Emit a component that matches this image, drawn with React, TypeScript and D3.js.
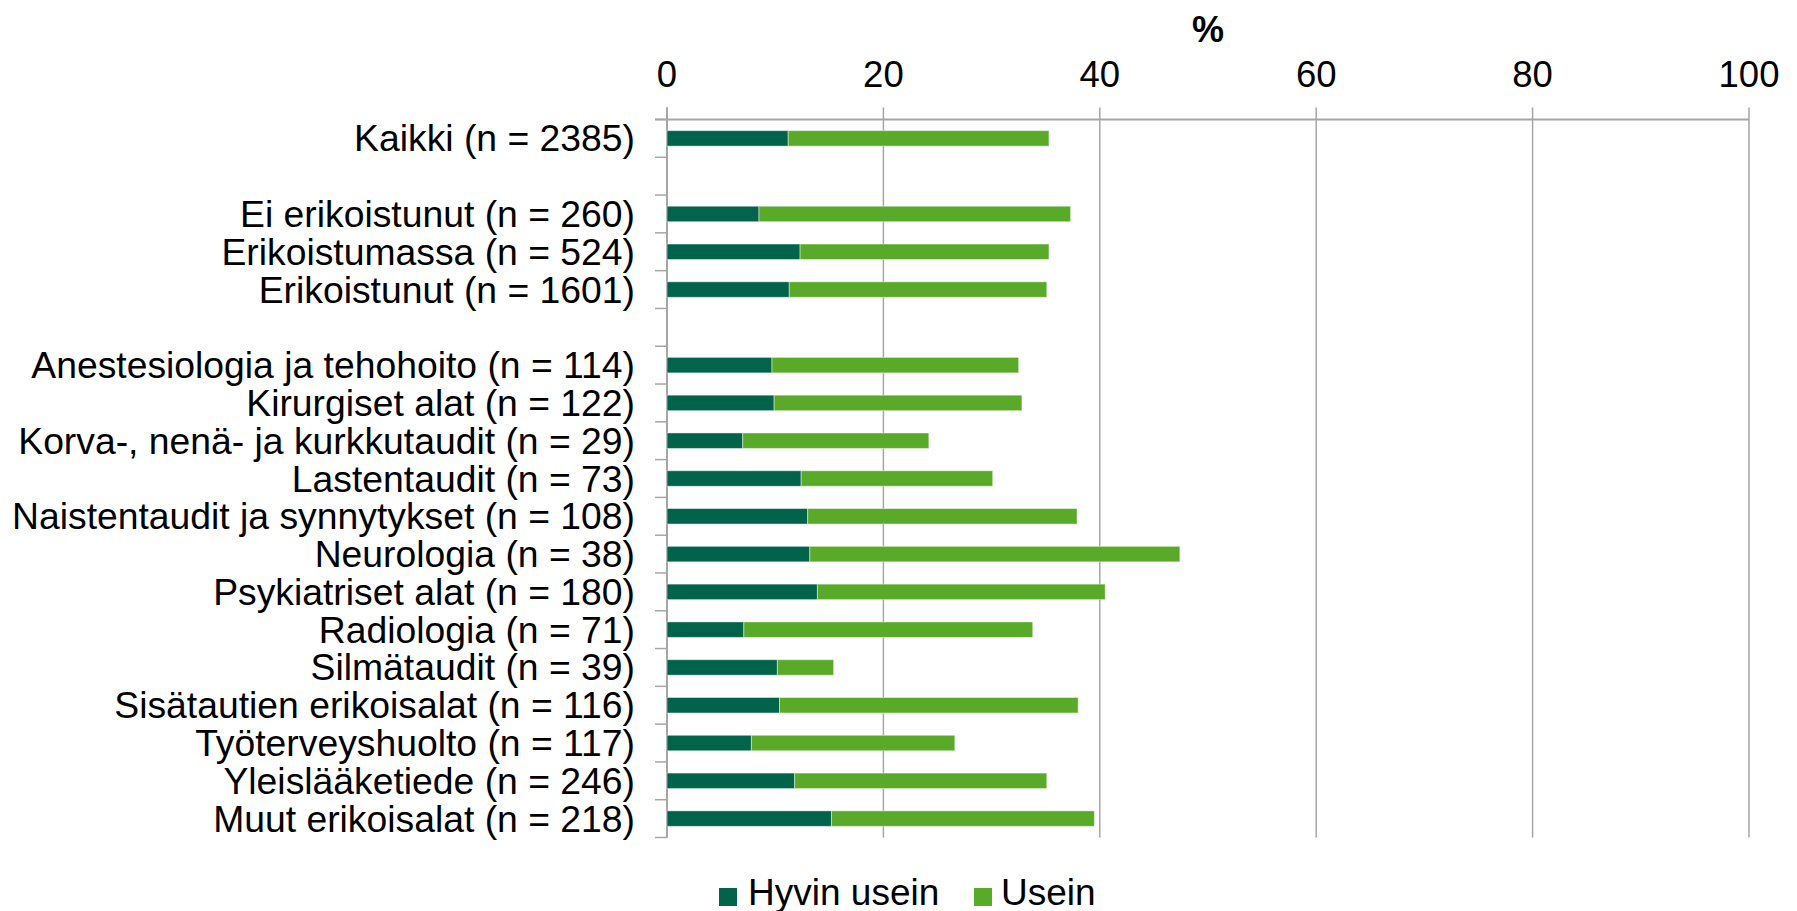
import React from "react";
import * as d3 from "d3";

const categories: string[] = [
  "Kaikki (n = 2385)",
  "",
  "Ei erikoistunut (n = 260)",
  "Erikoistumassa (n = 524)",
  "Erikoistunut (n = 1601)",
  "",
  "Anestesiologia ja tehohoito (n = 114)",
  "Kirurgiset alat (n = 122)",
  "Korva-, nenä- ja kurkkutaudit (n = 29)",
  "Lastentaudit (n = 73)",
  "Naistentaudit ja synnytykset (n = 108)",
  "Neurologia (n = 38)",
  "Psykiatriset alat (n = 180)",
  "Radiologia (n = 71)",
  "Silmätaudit (n = 39)",
  "Sisätautien erikoisalat (n = 116)",
  "Työterveyshuolto (n = 117)",
  "Yleislääketiede (n = 246)",
  "Muut erikoisalat (n = 218)",
];

const hyvinUsein: (number | null)[] = [
  11.2, null, 8.5, 12.3, 11.3, null, 9.7, 9.9, 7.0, 12.4, 13.0, 13.2, 13.9, 7.1, 10.2, 10.4, 7.8, 11.8, 15.2,
];
const usein: (number | null)[] = [
  24.1, null, 28.8, 23.0, 23.8, null, 22.8, 22.9, 17.2, 17.7, 24.9, 34.2, 26.6, 26.7, 5.2, 27.6, 18.8, 23.3, 24.3,
];

const seriesNames = ["Hyvin usein", "Usein"];
const xTicks = [0, 20, 40, 60, 80, 100];
const axisTitle = "%";

const W = 1797;
const H = 911;
const FONT = "'Liberation Sans', Arial, sans-serif";
const DARK = "#00634a";
const LIGHT = "#5aaa29";
const GRID = "#a6a6a6";

export default function App() {
  const left = 667;
  const right = 1749;
  const top = 119.5;
  const bottom = 837.5;

  const x = d3.scaleLinear().domain([0, 100]).range([left, right]);
  const idx = categories.map((_, i) => String(i));
  const y = d3
    .scaleBand<string>()
    .domain(idx)
    .range([top, bottom])
    .paddingInner(0.59)
    .paddingOuter(0.295);
  const step = y.step();
  const bw = y.bandwidth();

  const boundaries = d3.range(categories.length + 1).map((i) => top + i * step);

  return (
    <svg
      width={W}
      height={H}
      style={{ position: "fixed", left: 0, top: 0, background: "#fff" }}
      fontFamily={FONT}
    >
      <rect x={0} y={0} width={W} height={H} fill="#fff" />
      {xTicks.map((t) => (
        <line
          key={"g" + t}
          x1={x(t)}
          x2={x(t)}
          y1={top - 12}
          y2={bottom}
          stroke={GRID}
          strokeWidth={1.5}
        />
      ))}
      <line x1={left - 12} x2={right} y1={top} y2={top} stroke={GRID} strokeWidth={2} />
      {boundaries.map((b, i) => (
        <line key={"lt" + i} x1={left - 12} x2={left} y1={b} y2={b} stroke={GRID} strokeWidth={1.5} />
      ))}
      <line x1={left} x2={left} y1={top - 12} y2={bottom} stroke={GRID} strokeWidth={2} />
      {xTicks.map((t) => (
        <text key={"t" + t} x={x(t)} y={87} textAnchor="middle" fontSize={36.5} fill="#000">
          {t}
        </text>
      ))}
      <text x={(left + right) / 2} y={42} textAnchor="middle" fontSize={36} fontWeight="bold" fill="#000">
        {axisTitle}
      </text>
      {categories.map((c, i) => {
        const a = hyvinUsein[i];
        const b = usein[i];
        if (a == null || b == null) return null;
        const yy = y(String(i))!;
        return (
          <g key={"b" + i}>
            <rect
              x={x(0)}
              y={yy}
              width={x(a) - x(0)}
              height={bw}
              fill={DARK}
              stroke="rgba(255,255,255,0.45)"
              strokeWidth={1}
            />
            <rect
              x={x(a)}
              y={yy}
              width={x(a + b) - x(a)}
              height={bw}
              fill={LIGHT}
              stroke="rgba(255,255,255,0.45)"
              strokeWidth={1}
            />
          </g>
        );
      })}
      {categories.map((c, i) =>
        c ? (
          <text
            key={"c" + i}
            x={635}
            y={y(String(i))! + bw / 2 + 13}
            textAnchor="end"
            fontSize={37.3}
            fill="#000"
          >
            {c}
          </text>
        ) : null
      )}
      <g>
        <rect x={719} y={888} width={18} height={18} fill={DARK} />
        <text x={748} y={905} fontSize={37} fill="#000">
          {seriesNames[0]}
        </text>
        <rect x={974} y={888} width={18} height={18} fill={LIGHT} />
        <text x={1001} y={905} fontSize={37} fill="#000">
          {seriesNames[1]}
        </text>
      </g>
    </svg>
  );
}
